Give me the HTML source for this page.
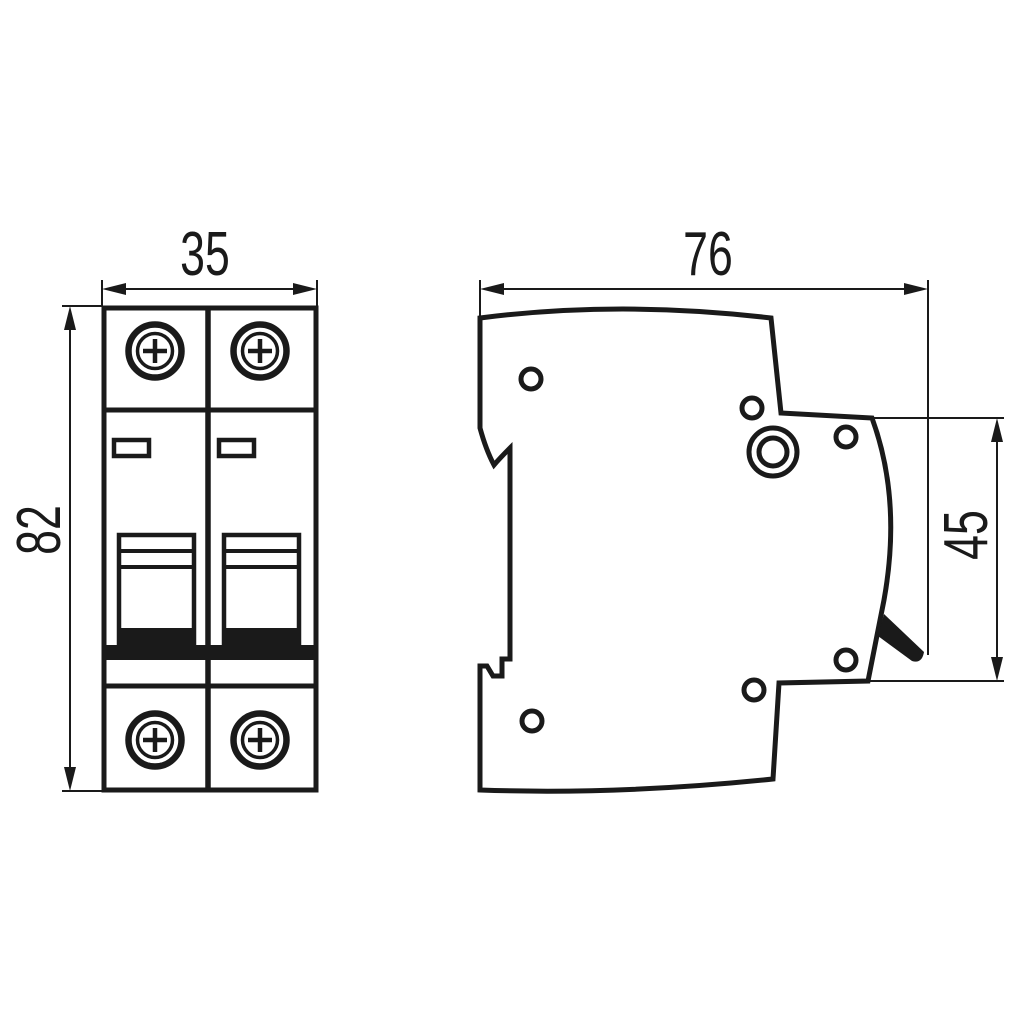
<!DOCTYPE html>
<html><head><meta charset="utf-8"><style>
html,body{margin:0;padding:0;background:#fff;}
svg{display:block;}
text{font-family:"Liberation Sans",sans-serif;font-size:62px;fill:#1a1a1a;}
</style></head><body>
<svg width="1022" height="1022" viewBox="0 0 1022 1022" xmlns="http://www.w3.org/2000/svg">
<defs>
<g id="scr">
<circle r="26.5" fill="none" stroke="#1a1a1a" stroke-width="6.5"/>
<circle r="17.5" fill="none" stroke="#1a1a1a" stroke-width="3.5"/>
<line x1="-12" y1="0" x2="12" y2="0" stroke="#1a1a1a" stroke-width="4.5"/>
<line x1="0" y1="-12" x2="0" y2="12" stroke="#1a1a1a" stroke-width="4.5"/>
</g>
</defs>
<g stroke="#1a1a1a" fill="none">
<rect x="104" y="308" width="212" height="482" stroke-width="5"/>
<line x1="208" y1="308" x2="208" y2="790" stroke-width="5.5"/>
<line x1="104" y1="410" x2="316" y2="410" stroke-width="5"/>
<line x1="104" y1="686" x2="316" y2="686" stroke-width="5"/>
<rect x="104" y="645" width="212" height="15" fill="#1a1a1a" stroke="none"/>
<rect x="114" y="440" width="35" height="16" stroke-width="4.5"/>
<rect x="219" y="440" width="35" height="16" stroke-width="4.5"/>
<rect x="119" y="535" width="75" height="112" stroke-width="4.5"/>
<rect x="224" y="535" width="75" height="112" stroke-width="4.5"/>
<line x1="119" y1="551" x2="194" y2="551" stroke-width="4"/>
<line x1="119" y1="567" x2="194" y2="567" stroke-width="4"/>
<line x1="224" y1="551" x2="299" y2="551" stroke-width="4"/>
<line x1="224" y1="567" x2="299" y2="567" stroke-width="4"/>
<rect x="119" y="628" width="75" height="18" fill="#1a1a1a" stroke="none"/>
<rect x="224" y="628" width="75" height="18" fill="#1a1a1a" stroke="none"/>
<line x1="102" y1="280" x2="102" y2="306" stroke-width="2"/>
<line x1="317" y1="280" x2="317" y2="306" stroke-width="2"/>
<line x1="110" y1="289" x2="310" y2="289" stroke-width="2"/>
<line x1="62" y1="306" x2="102" y2="306" stroke-width="2"/>
<line x1="62" y1="791" x2="102" y2="791" stroke-width="2"/>
<line x1="70" y1="315" x2="70" y2="782" stroke-width="2"/>
<path d="M480,318 Q620,300 771,318 L781,413 L872,418 Q902,500 884,600 L868,681 L779,683 L773,779 Q620,795 480,790 L480,666 L487,666 L493,676 L502,676 L502,659 L510,659 L510,448 Q500,458 494,465 Q486,450 480,428 Z" stroke-width="5" stroke-linejoin="miter"/>
<circle cx="531" cy="379" r="10" stroke-width="5"/>
<circle cx="752" cy="408" r="10" stroke-width="5"/>
<circle cx="846" cy="437" r="10" stroke-width="5"/>
<circle cx="773" cy="452" r="24" stroke-width="5"/>
<circle cx="773" cy="452" r="14" stroke-width="5"/>
<circle cx="846" cy="660" r="10" stroke-width="5"/>
<circle cx="754" cy="690" r="10" stroke-width="5"/>
<circle cx="532" cy="721" r="10" stroke-width="5"/>
<path d="M878,636 L884,614 L924,652 Q922,664 912,661 Z" fill="#1a1a1a" stroke="none"/>
<line x1="480" y1="280" x2="480" y2="318" stroke-width="2"/>
<line x1="928" y1="280" x2="928" y2="655" stroke-width="2"/>
<line x1="488" y1="289" x2="920" y2="289" stroke-width="2"/>
<line x1="872" y1="418" x2="1004" y2="418" stroke-width="2"/>
<line x1="868" y1="681" x2="1004" y2="681" stroke-width="2"/>
<line x1="997" y1="428" x2="997" y2="671" stroke-width="2"/>
</g>
<g fill="#1a1a1a">
<polygon points="102,289 126,283 126,295"/>
<polygon points="317,289 293,283 293,295"/>
<polygon points="70,306 64,330 76,330"/>
<polygon points="70,791 64,767 76,767"/>
<polygon points="480,289 504,283 504,295"/>
<polygon points="928,289 904,283 904,295"/>
<polygon points="997,418 991,442 1003,442"/>
<polygon points="997,681 991,657 1003,657"/>
</g>
<use href="#scr" x="155" y="351"/>
<use href="#scr" x="260" y="351"/>
<use href="#scr" x="155" y="740"/>
<use href="#scr" x="260" y="740"/>
<text transform="translate(205,275) scale(0.72,1)" text-anchor="middle">35</text>
<text transform="translate(708,275) scale(0.72,1)" text-anchor="middle">76</text>
<text transform="translate(60,530) rotate(-90) scale(0.72,1)" text-anchor="middle">82</text>
<text transform="translate(987,535) rotate(-90) scale(0.72,1)" text-anchor="middle">45</text>
</svg>
</body></html>
